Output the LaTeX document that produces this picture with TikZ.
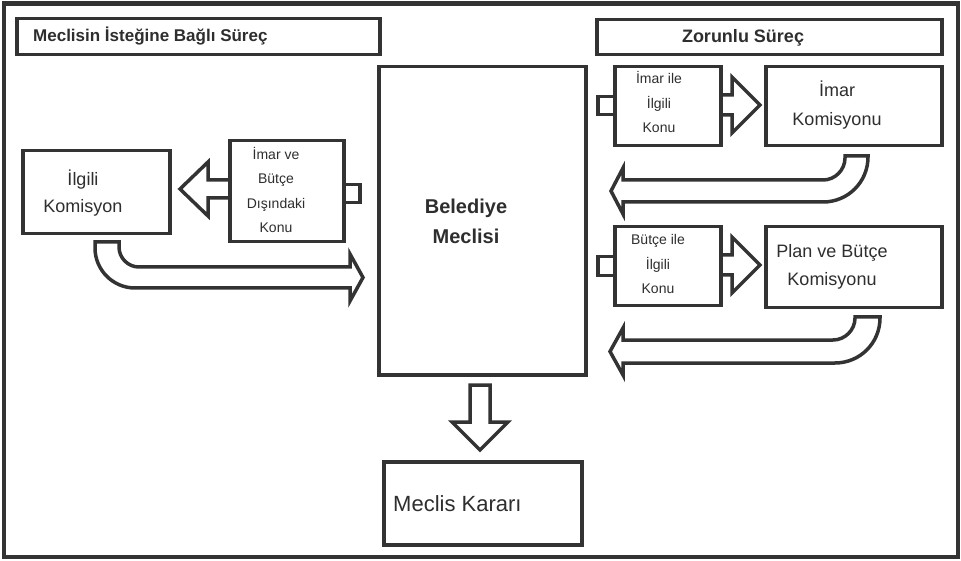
\documentclass[tikz,border=0pt]{standalone}
\usepackage{fontspec}
\setmainfont{Liberation Sans}
\usepackage{tikz}
\usetikzlibrary{positioning,calc}
\definecolor{Ink}{HTML}{2E2E2E}
\definecolor{Frame}{HTML}{333333}

\begin{document}
\begin{tikzpicture}[x=1pt,y=-1pt,
    box/.style={draw=Frame,line width=3.5pt,fill=white,inner sep=0pt,anchor=north west},
    fatarrow/.style={draw=Frame,line width=3.5pt,fill=white,line join=miter},
    txt/.style={text=Ink,align=center,inner sep=0pt},
    smalltxt/.style={txt,font=\fontsize{14}{24.3}\selectfont},
    midtxt/.style={txt,font=\fontsize{18}{28}\selectfont}]
  \useasboundingbox (0,0) rectangle (961,561);
  \draw[Frame,line width=4.5pt] (4,3.5) rectangle (958,557);

  \node[box,minimum width=363pt,minimum height=36pt] (hdrleft) at (15,17) {};
  \node[txt,anchor=base west,font=\fontsize{17}{20}\selectfont\bfseries] (hdrlefttxt) at (33,42) {Meclisin İsteğine Bağlı Süreç};
  \node[box,minimum width=345pt,minimum height=35pt] (hdrright) at (595,18) {};
  \node[txt,anchor=base,font=\fontsize{18}{20}\selectfont\bfseries] (hdrrighttxt) at (743,43) {Zorunlu Süreç};

  \draw[fatarrow] (470,385) -- (470,422) -- (452,422) -- (480,450) -- (508,422) -- (490,422) -- (490,385) -- cycle;
  \node[box,minimum width=207pt,minimum height=308pt] (meclis) at (377,65) {};
  \node[txt,font=\fontsize{20}{30}\selectfont\bfseries] (meclistxt) at (466,221) {Belediye\\Meclisi};
  \node[box,minimum width=198pt,minimum height=83pt] (karar) at (382,460) {};
  \node[txt,anchor=base west,font=\fontsize{22}{26}\selectfont] (karartxt) at (393,511) {Meclis Kararı};

  \draw[fatarrow] (228,180) -- (208,180) -- (208,162) -- (180,189) -- (208,216) -- (208,198) -- (228,198);
  \draw[fatarrow] (95,242) -- (119,242) -- (119,247) .. controls (119,258) and (128,267) .. (139,267) -- (350,267) -- (350,254) -- (363,277.5) -- (350,301) -- (350,288) -- (135,288) .. controls (113,288) and (95,270) .. (95,248) -- cycle;
  \node[box,minimum width=147pt,minimum height=83pt] (ilgili) at (21,149) {};
  \node[midtxt,font=\fontsize{18}{27}\selectfont] (ilgilitxt) at (83,193) {İlgili\\Komisyon};
  \node[box,minimum width=16pt,minimum height=18pt] (disitab) at (342,183) {};
  \node[box,minimum width=114pt,minimum height=101pt] (disi) at (228,139) {};
  \node[smalltxt] (disitxt) at (276,190) {İmar ve\\Bütçe\\Dışındaki\\Konu};

  \foreach \yc in {105,265}{
    \draw[fatarrow] (719,\yc-10) -- (732,\yc-10) -- (732,\yc-28) -- (760,\yc) -- (732,\yc+28) -- (732,\yc+10) -- (719,\yc+10);
  }
  \node[box,minimum width=17pt,minimum height=18pt] (imartab) at (596,95) {};
  \node[box,minimum width=106pt,minimum height=79pt] (imarkonu) at (613,65) {};
  \node[smalltxt] (imarkonutxt) at (659,102) {İmar ile\\İlgili\\Konu};
  \node[box,minimum width=176pt,minimum height=79pt] (imarkom) at (764,65) {};
  \node[midtxt,font=\fontsize{18}{29}\selectfont] (imarkomtxt) at (837,105.5) {İmar\\Komisyonu};
  \draw[fatarrow] (845,156) -- (868,156) -- (868,157) .. controls (868,182) and (848,202) .. (823,202) -- (623,202) -- (623,214) -- (611,191) -- (623,168) -- (623,180) -- (823,180) .. controls (835,180) and (845,170) .. (845,158) -- cycle;

  \node[box,minimum width=17pt,minimum height=19pt] (butcetab) at (596,255) {};
  \node[box,minimum width=106pt,minimum height=79pt] (butcekonu) at (613,225) {};
  \node[smalltxt] (butcekonutxt) at (658,264) {Bütçe ile\\İlgili\\Konu};
  \node[box,minimum width=176pt,minimum height=81pt] (plankom) at (764,225) {};
  \node[midtxt] (plankomtxt) at (832,266.5) {Plan ve Bütçe\\Komisyonu};
  \draw[fatarrow] (855,317) -- (880,317) -- (880,318) .. controls (880,343) and (860,363) .. (835,363) -- (623,363) -- (623,375) -- (610,351.5) -- (623,328) -- (623,340) -- (833,340) .. controls (845,340) and (855,330) .. (855,318) -- cycle;
\end{tikzpicture}
\end{document}
